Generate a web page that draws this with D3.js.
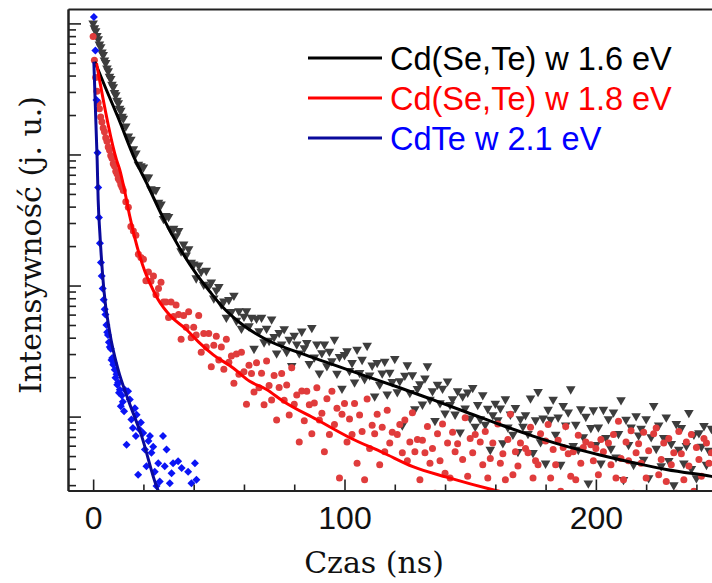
<!DOCTYPE html>
<html>
<head>
<meta charset="utf-8">
<script src="https://cdn.jsdelivr.net/npm/d3@7"></script>
<style>
  html, body { margin: 0; padding: 0; background: #fff; }
  svg { display: block; }
</style>
</head>
<body>
<div id="chart"></div>
<script>
// time bins (ns) shared by the two Cd(Se,Te) decays
const timeNs = [
  0, 0.5, 1, 1.5, 2, 2.5, 3, 3.5, 4, 4.5, 5, 5.5, 6, 6.5, 7, 7.5, 8, 8.5, 9, 9.5, 10, 10.5, 11, 11.5, 12,
  13, 14, 15, 16, 17, 18, 19, 20,
  21, 22, 23, 24, 25, 26, 27, 28, 29, 30,
  31, 32, 33, 34, 35, 36, 37, 38, 39, 40,
  41, 42, 43, 44, 45, 46, 47, 48, 49, 50,
  51, 52, 53, 54, 55, 56, 57, 58, 59, 60,
  61, 62, 63, 64, 65, 66, 67, 68, 69, 70,
  71, 72, 73, 74, 75, 76, 77, 78, 79, 80,
  81, 82, 83, 84, 85, 86, 87, 88, 89, 90,
  91, 92, 93, 94, 95, 96, 97, 98, 99, 100,
  101, 102, 103, 104, 105, 106, 107, 108, 109, 110,
  111, 112, 113, 114, 115, 116, 117, 118, 119, 120,
  121, 122, 123, 124, 125, 126, 127, 128, 129, 130,
  131, 132, 133, 134, 135, 136, 137, 138, 139, 140,
  141, 142, 143, 144, 145, 146, 147, 148, 149, 150,
  151, 152, 153, 154, 155, 156, 157, 158, 159, 160,
  161, 162, 163, 164, 165, 166, 167, 168, 169, 170,
  171, 172, 173, 174, 175, 176, 177, 178, 179, 180,
  181, 182, 183, 184, 185, 186, 187, 188, 189, 190,
  191, 192, 193, 194, 195, 196, 197, 198, 199, 200,
  201, 202, 203, 204, 205, 206, 207, 208, 209, 210,
  211, 212, 213, 214, 215, 216, 217, 218, 219, 220,
  221, 222, 223, 224, 225, 226, 227, 228, 229, 230,
  231, 232, 233, 234, 235, 236, 237, 238, 239, 240,
  241, 242, 243, 244, 245, 246
];

// Cd(Se,Te) w 1.6 eV (triangles)
const blackCounts = [
  10040, 9210, 8760, 8050, 7590, 6920, 6610, 6030, 5760, 5240, 5010, 4550, 4340, 3930, 3780, 3420, 3270, 2950, 2840, 2580, 2470, 2240, 2160, 1950, 1880,
  1641, 1376, 1300, 1101, 1019, 839, 817, 798,
  670, 670, 546, 533, 537, 429, 416, 323, 340, 335,
  265, 272, 239, 262, 183, 206, 170, 190, 150, 145,
  114, 143, 128, 102, 130, 99, 106, 80, 92, 98,
  72, 76, 57, 78, 63, 84, 54, 64, 47, 58,
  64, 49, 57, 33, 56, 45, 57, 37, 47, 38,
  55.4, 40.6, 30.4, 43.6, 35.7, 46.6, 31.3, 38.7, 24.4, 41.6,
  35.6, 30.4, 44.7, 33.4, 36.6, 25.3, 47.6, 28.4, 35.7, 21.4,
  30.6, 35.7, 24.3, 31.4, 26.6, 38.7, 21.3, 28.6, 16.4, 29.6,
  31.6, 22.4, 25.7, 18.3, 32.5, 21.6, 27.2, 19.4, 34.8, 20.7,
  24.6, 14.3, 25.8, 17.6, 21.4, 26.3, 14.8, 21.7, 18.4, 27.6,
  15.4, 18.7, 8.6, 20.6, 24.7, 15.2, 20.8, 11.4, 16.3, 17.7,
  12.4, 19.6, 24.3, 13.5, 15.7, 9.3, 17.6, 12.7, 16.4, 10.6,
  18.6, 12.3, 13.6, 10.4, 15.7, 7.6, 14.3, 11.6, 15.3, 9.7,
  16.6, 8.4, 12.3, 9.6, 14.6, 8.7, 11.5, 5.6, 10.3, 12.6,
  9.4, 11.6, 6.3, 13.6, 8.3, 10.4, 7.3, 11.7, 5.4, 9.6,
  8.4, 10.3, 7.4, 13.8, 5.3, 9.4, 15.5, 6.4, 9.7, 4.4,
  11.3, 9.5, 13.5, 7.3, 9.9, 4.3, 12.1, 8.6, 10.8, 16.2,
  6.0, 8.7, 5.6, 11.4, 7.0, 10.0, 3.1, 8.2, 11.2, 6.1,
  8.3, 4.4, 11.3, 6.9, 9.6, 5.7, 10.8, 4.9, 7.4, 13.4,
  3.3, 9.5, 6.1, 8.3, 4.3, 10.1, 7.2, 8.1, 4.7, 9.6,
  3.4, 7.0, 12.1, 5.7, 8.6, 4.2, 6.9, 9.9, 4.6, 6.2,
  3.0, 8.8, 5.6, 8.2, 4.4, 6.0, 10.7, 4.0, 7.3, 3.4,
  7.5, 5.9, 8.5, 4.3, 5.5, 8.1
];

// Cd(Se,Te) w 1.8 eV (circles)
const redCounts = [
  7950, 5240, 3870, 3040, 2480, 2230, 1930, 1770, 1590, 1490, 1340, 1260, 1140, 1080, 980, 935, 850, 815, 745, 712, 655, 634, 590, 561, 532,
  436, 395, 282, 261, 242, 173, 164, 159,
  109, 127, 108, 118, 85, 95, 106, 75, 75, 57,
  75, 58, 71, 60, 39, 59, 48, 63, 40, 48,
  42, 59, 31, 43, 34, 43, 24, 35, 41, 27,
  34, 23, 39, 26, 29, 18, 30, 21, 31, 22,
  12.4, 24.6, 21.3, 15.4, 25.7, 16.6, 21.4, 12.3, 26.6, 17.3,
  13.4, 20.6, 9.4, 16.7, 21.3, 13.3, 17.4, 10.3, 23.6, 12.4,
  14.6, 6.4, 15.7, 9.3, 15.6, 12.3, 7.4, 12.7, 16.6, 9.4,
  10.6, 5.4, 13.7, 7.3, 15.6, 8.7, 11.6, 3.4, 10.4, 12.6,
  6.4, 9.6, 7.3, 12.6, 4.4, 10.3, 7.7, 3.3, 13.6, 5.7,
  8.6, 7.4, 10.4, 4.3, 8.3, 5.4, 11.2, 6.3, 7.6, 2.4,
  7.3, 8.7, 5.3, 9.4, 4.6, 6.4, 10.7, 5.4, 6.7, 3.3,
  6.6, 5.3, 8.4, 4.4, 5.7, 2.6, 7.4, 4.6, 8.8, 3.7,
  6.3, 3.4, 7.6, 5.4, 6.2, 1.5, 4.7, 9.8, 3.5, 6.8,
  5.3, 7.3, 2.5, 6.4, 4.3, 7.7, 3.4, 4.8, 6.3, 2.6,
  8.8, 4.4, 5.2, 3.3, 6.7, 10.4, 3.6, 5.4, 4.2, 6.3,
  1.6, 5.7, 5.3, 8.3, 3.4, 4.6, 4.3, 7.4, 2.4, 6.5,
  8.7, 3.4, 5.6, 4.3, 6.6, 2.7, 5.8, 8.4, 5.2, 3.5,
  5.4, 3.3, 7.2, 4.4, 5.8, 6.4, 2.4, 6.1, 4.6, 5.7,
  3.6, 6.7, 5.4, 1.8, 6.3, 4.3, 7.3, 3.4, 9.2, 4.8,
  3.3, 6.4, 4.6, 7.8, 2.6, 5.3, 6.2, 4.4, 7.6, 3.4,
  5.5, 2.4, 7.4, 8.2, 3.6, 4.7, 6.3, 3.2, 6.8, 4.3,
  5.3, 2.6, 7.7, 5.2, 3.3, 6.4, 4.2, 7.3, 2.7, 5.8,
  4.7, 3.5, 6.8, 6.3, 4.4, 5.3
];

// CdTe w 2.1 eV (diamonds)
const blueTimeNs = [
  0.3, 0.9, 1.35, 1.75, 2.0, 2.3, 2.7, 3.1, 3.4, 3.8,
  4.2, 4.6, 4.9, 5.3, 5.6, 5.9, 6.25, 6.6, 7.0, 7.3,
  7.6, 8.0, 8.3, 8.6, 8.9, 9.3, 9.6, 9.95, 10.3, 10.6,
  11.0, 11.4, 11.8, 12.3, 12.6, 13.3, 13.9, 14.6, 15.2, 15.8,
  16.6, 17.0, 17.3, 17.9, 18.4, 19.0, 19.9, 20.6, 21.2, 22.0,
  22.6, 23.2, 23.9, 24.5, 25.2, 25.9, 26.5, 27.8, 28.5, 29.2,
  30.5, 31.2, 31.8, 33.8, 35.2, 37.8, 39.1, 40.5, 41.1
];
const blueCounts = [
  11200, 6200, 2600, 1030, 560, 330, 210, 150, 118, 95,
  78, 66, 60, 50, 44, 42, 37, 34, 33, 27,
  28, 24.9, 25.5, 22.8, 19.8, 21, 17.5, 18.2, 15.2, 16,
  12, 14.5, 13, 11, 16, 6.1, 15.6, 13.5, 9.5, 8.2,
  11.6, 7.1, 10.35, 3.6, 8, 9, 7.5, 5.6, 4.18, 6.5,
  7.1, 5.3, 5.9, 3.8, 2.95, 4.4, 3.2, 7.1, 4.18, 5.6,
  3.1, 3.7, 4.4, 4.56, 4.06, 3.8, 3.1, 4.4, 3.3
];

// fitted curves: [t (ns), intensity]
const blackFit = [
  [0.68, 5100], [5, 3200], [10, 1900], [16.6, 920], [21.2, 610], [27.8, 330],
  [34.5, 192], [41.1, 122], [46.4, 90], [52, 67], [58.4, 52], [69, 38.6],
  [82.2, 30.6], [95.5, 24.9], [108.8, 20.3], [122, 16.6], [135.3, 13.4],
  [148.6, 10.8], [161.8, 8.7], [175, 7.1], [188, 5.95], [201.6, 5.1],
  [215, 4.45], [228, 3.95], [246, 3.5], [252, 3.35]
];
const redFit = [
  [1.35, 4970], [9.3, 910], [10.6, 764], [12.6, 520], [14.6, 336], [16.6, 230],
  [18.6, 167], [20.6, 128], [22.6, 104], [25.9, 78], [31, 58], [37.2, 46],
  [42, 37], [47.7, 29.7], [55.7, 23.5], [62.3, 18.6], [69, 16.1], [75.6, 13.1],
  [88.9, 9.5], [102.1, 6.9], [115.4, 5.3], [127.2, 4.15], [140.6, 3.45],
  [159.8, 2.74], [175, 2.35]
];
const blueFit = [
  [0.28, 5100], [1.6, 910], [2.0, 451], [2.67, 252], [4.26, 93], [6.64, 43.5],
  [9.95, 22.8], [13.9, 13.5], [19.3, 7.1], [25.2, 2.94], [30, 1.9]
];

const legendLabels = ["Cd(Se,Te) w 1.6 eV", "Cd(Se,Te) w 1.8 eV", "CdTe w 2.1 eV"];
const xMajorTicks = [0, 100, 200];
const xMinorTicks = [20, 40, 60, 80, 120, 140, 160, 180, 220, 240];
const yMajorTicks = [10, 100, 1000, 10000];
const yMinorTicks = [3, 4, 5, 6, 7, 8, 9, 20, 30, 40, 50, 60, 70, 80, 90,
  200, 300, 400, 500, 600, 700, 800, 900, 2000, 3000, 4000, 5000, 6000, 7000, 8000, 9000];

// layout
const width = 712, height = 583;
const margin = { top: 9, right: 0, bottom: 92.5, left: 68 };
const plotW = width - margin.left - margin.right;
const plotH = height - margin.top - margin.bottom;

const svg = d3.select("#chart").append("svg")
  .attr("width", width)
  .attr("height", height);

const g = svg.append("g")
  .attr("transform", "translate(" + margin.left + "," + margin.top + ")");

const x = d3.scaleLinear().domain([-10, 246.2]).range([0, plotW]);
const y = d3.scaleLog().domain([2.73, 12880]).range([plotH, 0]);

g.append("clipPath").attr("id", "plotclip")
  .append("rect").attr("x", 0).attr("y", 0).attr("width", plotW).attr("height", plotH);

const plot = g.append("g").attr("clip-path", "url(#plotclip)");

// pair up the series
const blackData = timeNs.map((t, i) => [t, blackCounts[i]]).filter(d => d[1] > 0);
const redData = timeNs.map((t, i) => [t, redCounts[i]]).filter(d => d[1] > 0);
const blueData = blueTimeNs.map((t, i) => [t, blueCounts[i]]).filter(d => d[1] > 0);

// scatter markers
const triangle = d3.symbol().type(d3.symbolTriangle).size(40);
plot.append("g").selectAll("path")
  .data(blackData)
  .enter().append("path")
  .attr("d", triangle)
  .attr("transform", d => "translate(" + x(d[0]) + "," + y(d[1]) + ") rotate(180)")
  .attr("fill", "#3d3d3d");

plot.append("g").selectAll("circle")
  .data(redData)
  .enter().append("circle")
  .attr("cx", d => x(d[0]))
  .attr("cy", d => y(d[1]))
  .attr("r", 3.5)
  .attr("fill", "#e03c3c");

const diamond = d3.symbol().type(d3.symbolSquare).size(32);
plot.append("g").selectAll("path")
  .data(blueData)
  .enter().append("path")
  .attr("d", diamond)
  .attr("transform", d => "translate(" + x(d[0]) + "," + y(d[1]) + ") rotate(45)")
  .attr("fill", "#0a14f5");

// fitted curves
const line = d3.line()
  .x(d => x(d[0]))
  .y(d => y(d[1]))
  .curve(d3.curveMonotoneX);

plot.append("path").datum(blackFit)
  .attr("d", line).attr("fill", "none").attr("stroke", "#000").attr("stroke-width", 3);
plot.append("path").datum(redFit)
  .attr("d", line).attr("fill", "none").attr("stroke", "#ff0000").attr("stroke-width", 3);
plot.append("path").datum(blueFit)
  .attr("d", line).attr("fill", "none").attr("stroke", "#0a0a9c").attr("stroke-width", 3);

// axes, ticks pointing inward
const axisColor = "#222";

function styleAxis(sel) {
  sel.select(".domain").attr("stroke", axisColor).attr("stroke-width", 2);
  sel.selectAll(".tick line").attr("stroke", axisColor).attr("stroke-width", 1.6);
}

g.append("g")
  .attr("transform", "translate(0," + plotH + ")")
  .call(d3.axisBottom(x).tickValues(xMinorTicks).tickSize(-6).tickSizeOuter(0).tickFormat(""))
  .call(styleAxis);

const xAxis = g.append("g")
  .attr("transform", "translate(0," + plotH + ")")
  .call(d3.axisBottom(x).tickValues(xMajorTicks).tickSize(-11).tickSizeOuter(0).tickPadding(16))
  .call(styleAxis);
xAxis.selectAll(".tick text")
  .attr("fill", "#111")
  .style("font-family", "'Liberation Sans', Arial, sans-serif")
  .style("font-size", "32px");

g.append("g")
  .call(d3.axisTop(x).tickValues([]).tickSizeOuter(0))
  .call(styleAxis);

g.append("g")
  .call(d3.axisLeft(y).tickValues(yMinorTicks).tickSize(-8).tickSizeOuter(0).tickFormat(""))
  .call(styleAxis);

g.append("g")
  .call(d3.axisLeft(y).tickValues(yMajorTicks).tickSize(-13).tickSizeOuter(0).tickFormat(""))
  .call(styleAxis);

// axis titles
svg.append("text")
  .attr("x", 374)
  .attr("y", 573)
  .attr("text-anchor", "middle")
  .style("font-family", "'DejaVu Serif', serif")
  .style("font-size", "30px")
  .attr("fill", "#111")
  .text("Czas (ns)");

svg.append("text")
  .attr("transform", "translate(41,245) rotate(-90)")
  .attr("text-anchor", "middle")
  .style("font-family", "'DejaVu Serif', serif")
  .style("font-size", "30px")
  .attr("fill", "#111")
  .text("Intensywność (j. u.)");

// legend
const legendLineColors = ["#000", "#ff0000", "#0a0a9c"];
const legendTextColors = ["#000", "#ff0000", "#0000ff"];
const legend = svg.append("g").attr("transform", "translate(308,58)");

legend.selectAll("line")
  .data(legendLabels)
  .enter().append("line")
  .attr("x1", 0).attr("x2", 74)
  .attr("y1", (d, i) => i * 40).attr("y2", (d, i) => i * 40)
  .attr("stroke", (d, i) => legendLineColors[i])
  .attr("stroke-width", 3);

legend.selectAll("text")
  .data(legendLabels)
  .enter().append("text")
  .attr("x", 82)
  .attr("y", (d, i) => i * 40 + 12)
  .attr("fill", (d, i) => legendTextColors[i])
  .style("font-family", "'Liberation Sans', Arial, sans-serif")
  .style("font-size", "32.5px")
  .text(d => d);
</script>
</body>
</html>
